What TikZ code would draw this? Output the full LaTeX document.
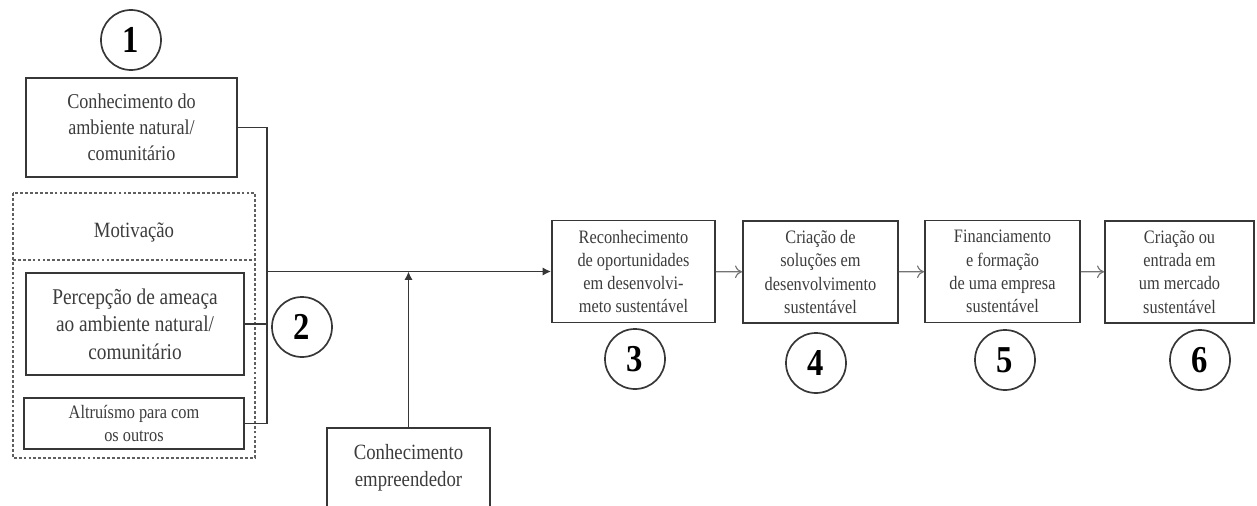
\documentclass[tikz,border=0pt]{standalone}
\usepackage{fontspec}
\setmainfont[FakeStretch=0.86]{Liberation Serif}
\usepackage{tikz}
\usetikzlibrary{arrows.meta}
\definecolor{linegray}{RGB}{55,55,55}
\definecolor{textgray}{RGB}{60,60,60}

\begin{document}
\begin{tikzpicture}[
    x=0.025cm, y=-0.025cm,
    box/.style={draw=linegray, line width=1.3pt, text=textgray, align=center, inner sep=0pt},
    stagebox/.style={box, minimum width=3.95cm, minimum height=2.55cm, font=\fontsize{13.5}{16.5}\selectfont},
    numcircle/.style={circle, draw=linegray, line width=1.2pt, minimum size=1.5cm, inner sep=0pt, font=\fontsize{27}{27}\selectfont\bfseries},
    motivbox/.style={draw=linegray!80, line width=1pt, dash pattern=on 2pt off 1.5pt},
    arrow/.style={-{Latex[length=6pt,width=6pt]}, line width=1.3pt, draw=linegray},
    steparrow/.style={-{To[length=5pt,width=9pt]}, line width=0.8pt, draw=linegray!70}
]
\clip (0,0) rectangle (1257,506);

% left side: motivation and knowledge
\draw[motivbox] (13,193) rectangle (255,458);
\draw[motivbox] (13,260) -- (255,260);
\node[text=textgray, font=\fontsize{15.5}{18}\selectfont] (motiv) at (134,232) {Motivação};

\node[box, minimum width=5.275cm, minimum height=2.475cm, font=\fontsize{15}{18.5}\selectfont] (natural) at (131.5,127.5) {Conhecimento do\\ambiente natural/\\comunitário};
\node[box, minimum width=5.45cm, minimum height=2.55cm, font=\fontsize{16}{19.5}\selectfont] (ameaca) at (135,324) {Percepção de ameaça\\ao ambiente natural/\\comunitário};
\node[box, minimum width=5.5cm, minimum height=1.275cm, font=\fontsize{13.5}{16.5}\selectfont] (altruismo) at (134,423.5) {Altruísmo para com\\os outros};
\node[box, minimum width=4.075cm, minimum height=2cm, font=\fontsize{15.5}{19}\selectfont] (empreend) at (408.5,468) {Conhecimento\\empreendedor};

% process stages
\node[stagebox, minimum width=4.075cm] (reconhec) at (633.5,271.5) {Reconhecimento\\de oportunidades\\em desenvolvi-\\meto sustentável};
\node[stagebox, minimum width=3.875cm] (solucoes) at (820.5,272) {Criação de\\soluções em\\desenvolvimento\\sustentável};
\node[stagebox, minimum width=3.875cm] (financ) at (1002.5,271.5) {Financiamento\\e formação\\de uma empresa\\sustentável};
\node[stagebox, minimum width=3.725cm] (mercado) at (1179.5,272) {Criação ou\\entrada em\\um mercado\\sustentável};

% numbers
\node[numcircle] (n1) at (131,40) {1};
\node[numcircle] (n2) at (302,327) {2};
\node[numcircle] (n3) at (635,359) {3};
\node[numcircle] (n4) at (816,363) {4};
\node[numcircle] (n5) at (1005,360) {5};
\node[numcircle] (n6) at (1200,360) {6};

% connectors
\coordinate (bus) at (267,0);
\draw[line width=1.3pt, linegray] (natural.east) -| (bus |- altruismo.east) -- (altruismo.east);
\draw[line width=1.3pt, linegray] (ameaca.east) -- (ameaca.east -| bus);
\draw[arrow] (bus |- reconhec.west) -- (reconhec.west);
\draw[arrow] (empreend.north) -- (empreend.north |- reconhec.west);

\draw[steparrow] (reconhec) -- (solucoes);
\draw[steparrow] (solucoes) -- (financ);
\draw[steparrow] (financ) -- (mercado);

\end{tikzpicture}
\end{document}
